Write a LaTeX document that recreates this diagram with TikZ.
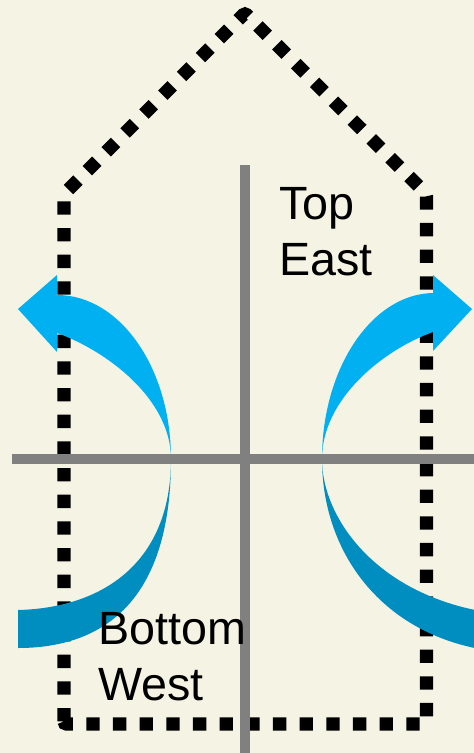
\documentclass[tikz,border=0pt]{standalone}
\usepackage{fontspec}
\setmainfont{Liberation Sans}
\definecolor{cream}{RGB}{245,244,228}
\definecolor{lightblue}{RGB}{0,176,240}
\definecolor{darkblue}{RGB}{0,142,192}
\definecolor{axisgray}{RGB}{128,128,128}
\begin{document}
\begin{tikzpicture}[x=0.75pt,y=-0.75pt,
    outline/.style={line width=10pt, dash pattern=on 10pt off 10pt, rounded corners=2pt},
    axis/.style={axisgray, line width=7.5pt},
    label/.style={font=\fontsize{35}{42}\selectfont, align=left, anchor=north west, inner sep=0pt}]
    \clip (0,0) rectangle (474,753);
    \fill[cream] (0,0) rectangle (474,753);
    % dotted house
    \draw[outline] (64,724) -- (64,194) -- (245,13) -- (426.5,194) -- (426.5,724) -- cycle;
    % upper arrows
    \fill[lightblue] (171,459) .. controls (171,368) and (120,295) .. (57,295) -- (57,275) -- (18,309) -- (57,352) -- (57,333) .. controls (107,351) and (171,399) .. (171,459) -- cycle;
    \fill[lightblue] (322,459) .. controls (322,368) and (372,294) .. (433,293) -- (433,275) -- (472,309) -- (433,351) -- (433,332) .. controls (383,350) and (322,399) .. (322,459) -- cycle;
    % lower bands
    \fill[darkblue] (171,459) .. controls (171,610) and (95,648) .. (18,648) -- (18,610) .. controls (100,608) and (171,565) .. (171,459) -- cycle;
    \fill[darkblue] (322,459) .. controls (322,555) and (385,640) .. (500,652) -- (500,614) .. controls (380,600) and (322,520) .. (322,459) -- cycle;
    % axes
    \coordinate (west) at (12,459);
    \coordinate (east) at (474,459);
    \coordinate (top) at (245,165);
    \coordinate (bottom) at (245,753);
    \draw[axis] (west) -- (east);
    \draw[axis] (top) -- (bottom);
    % labels
    \node[label] (topeast) at (279,187) {Top\\East};
    \node[label] (bottomwest) at (98,612) {Bottom\\West};
\end{tikzpicture}
\end{document}
